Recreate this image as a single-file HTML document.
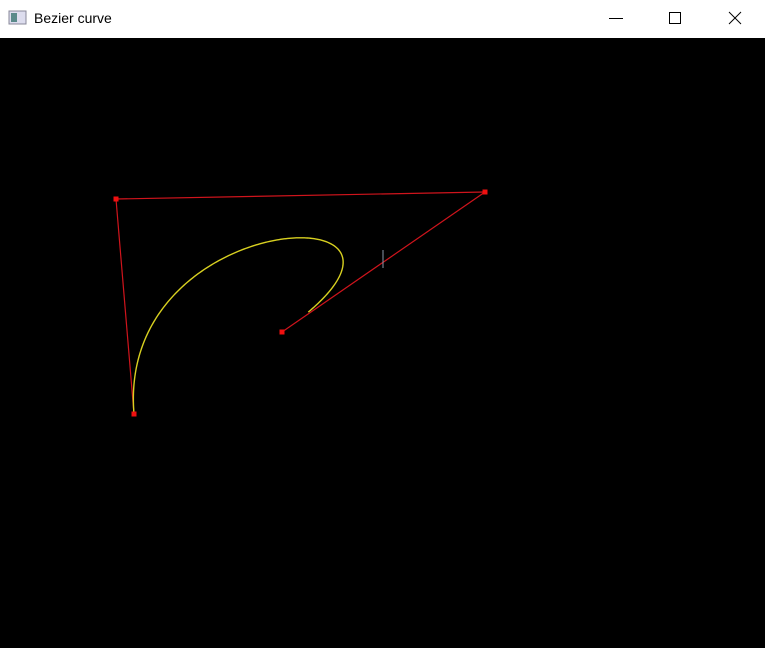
<!DOCTYPE html>
<html><head><meta charset="utf-8"><style>
html,body{margin:0;padding:0;width:765px;height:648px;overflow:hidden;background:#000;font-family:"Liberation Sans",sans-serif}
#titlebar{position:absolute;left:0;top:0;width:765px;height:38px;background:#fff}
#title{position:absolute;left:34px;top:10px;font-size:14px;color:#000}
</style></head><body>
<div id="titlebar">
<svg width="30" height="38" style="position:absolute;left:0;top:0"><rect x="9" y="11" width="17" height="13" fill="#dde" stroke="#889"/><rect x="11" y="13" width="6" height="9" fill="#5a8a8a"/></svg>
<div id="title">Bezier curve</div>
<svg width="160" height="38" style="position:absolute;left:605px;top:0">
<line x1="4" y1="18.5" x2="18" y2="18.5" stroke="#000"/>
<rect x="64.5" y="12.5" width="11" height="11" fill="none" stroke="#000"/>
<g stroke="#000"><line x1="124" y1="12" x2="136" y2="24"/><line x1="136" y1="12" x2="124" y2="24"/></g>
</svg>
</div>
<svg id="canvas" width="765" height="610" style="position:absolute;left:0;top:38px" viewBox="0 38 765 610"></svg>
<script>
const ptsX=[134,116,485,282];
const ptsY=[414,199,192,332];
const tMax=0.95;
const svg=document.getElementById('canvas');
const NS='http://www.w3.org/2000/svg';
function mk(t,a){const e=document.createElementNS(NS,t);for(const k in a)e.setAttribute(k,a[k]);svg.appendChild(e);return e;}
let d='M'+ptsX[0]+' '+ptsY[0];
for(let i=0;i<ptsX.length-1;i++){
 const l=mk('line',{x1:ptsX[i],y1:ptsY[i],x2:ptsX[i+1],y2:ptsY[i+1],stroke:'#d0141c','stroke-width':1.2});
 
 
}
let cd='';
for(let s=0;s<=200;s++){
 const t=tMax*s/200,u=1-t;
 const b=[u*u*u,3*u*u*t,3*u*t*t,t*t*t];
 const x=b[0]*ptsX[0]+b[1]*ptsX[1]+b[2]*ptsX[2]+b[3]*ptsX[3];
 const y=b[0]*ptsY[0]+b[1]*ptsY[1]+b[2]*ptsY[2]+b[3]*ptsY[3];
 cd+=(s?'L':'M')+x.toFixed(2)+' '+y.toFixed(2);
}
const c=mk('path',{d:cd,fill:'none',stroke:'#d8d020','stroke-width':1.4});


for(let i=0;i<ptsX.length;i++){
 const r=mk('rect',{x:ptsX[i]-2.5,y:ptsY[i]-2.5,width:5,height:5,fill:'#f01010'});
 
 
}
const cur=mk('line',{x1:383,y1:250,x2:383,y2:268,stroke:'#8899aa','stroke-width':1});


</script>
</body></html>
